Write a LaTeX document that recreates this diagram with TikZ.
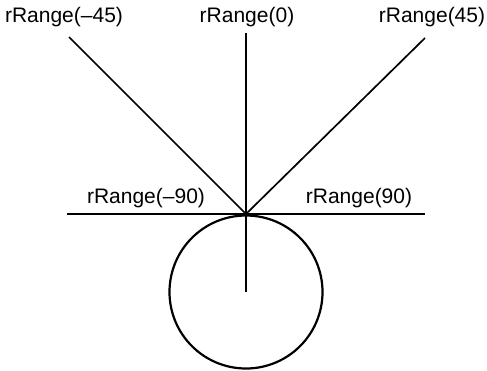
\documentclass[tikz,border=0pt]{standalone}
\usepackage{fontspec}
\setmainfont{Liberation Sans}
\begin{document}
\begin{tikzpicture}[x=1pt,y=-1pt,
  ray/.style={line width=1.7pt,black},
  lbl/.style={inner sep=0pt,font=\fontsize{21}{24}\selectfont}]
\useasboundingbox (0,0) rectangle (487,370);
\coordinate (O) at (246,214);
\coordinate (tL) at (69,37);
\coordinate (tU) at (246,33);
\coordinate (tR) at (425,38);
\coordinate (hL) at (67,214);
\coordinate (hR) at (425,214);
\coordinate (C) at (246,292);
\node[lbl] (l45m) at (64,17.5) {rRange(–45)};
\node[lbl] (l0) at (247,17) {rRange(0)};
\node[lbl] (l45) at (432,17.5) {rRange(45)};
\node[lbl] (l90m) at (146,198) {rRange(–90)};
\node[lbl] (l90) at (359,198) {rRange(90)};
\node[draw,circle,line width=2.2pt,minimum size=153pt,inner sep=0pt] (circ) at (C) {};
\draw[ray] (O) -- (tL);
\draw[ray] (O) -- (tU);
\draw[ray] (O) -- (tR);
\draw[ray] (hL) -- (hR);
\draw[ray] (O) -- (C);
\end{tikzpicture}
\end{document}
